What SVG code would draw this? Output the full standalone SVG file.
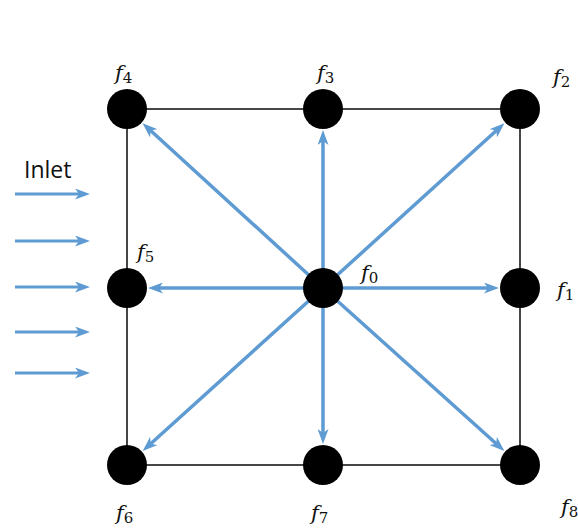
<svg xmlns="http://www.w3.org/2000/svg" width="578" height="531" viewBox="0 0 578 531">
<style>
.frame{fill:none;stroke:#1a1a1a;stroke-width:1.6}
.vec{stroke:#5F9BD3;stroke-width:3.5;fill:none}
.inl{stroke:#5F9BD3;stroke-width:3;fill:none}
.node{fill:#000}
.lbl{font-family:"DejaVu Serif","Liberation Serif",serif;font-style:italic;font-size:21px;fill:#111}
.sub{font-style:normal;font-size:15px}
.title{font-family:"Open Sans","Liberation Sans",sans-serif;font-size:23px;fill:#111}
</style>
<defs>
<marker id="ah" markerUnits="userSpaceOnUse" markerWidth="15" markerHeight="11" viewBox="0 0 15 11" refX="9" refY="5.5" orient="auto">
<path d="M0,0 L15,5.5 L0,11 L4,5.5 z" fill="#5F9BD3"/>
</marker>
</defs>
<rect class="frame" x="127" y="109" width="393" height="356"/>
<g id="connectors">
<line class="vec" x1="323" y1="288" x2="493" y2="288" marker-end="url(#ah)"/>
<line class="vec" x1="323" y1="288" x2="500" y2="127.2" marker-end="url(#ah)"/>
<line class="vec" x1="323" y1="288" x2="323" y2="136" marker-end="url(#ah)"/>
<line class="vec" x1="323" y1="288" x2="147" y2="127.2" marker-end="url(#ah)"/>
<line class="vec" x1="323" y1="288" x2="154" y2="288" marker-end="url(#ah)"/>
<line class="vec" x1="323" y1="288" x2="147.1" y2="447" marker-end="url(#ah)"/>
<line class="vec" x1="323" y1="288" x2="323" y2="438" marker-end="url(#ah)"/>
<line class="vec" x1="323" y1="288" x2="499.9" y2="447" marker-end="url(#ah)"/>
<line class="inl" x1="15" y1="194" x2="84" y2="194" marker-end="url(#ah)"/>
<line class="inl" x1="15" y1="241" x2="84" y2="241" marker-end="url(#ah)"/>
<line class="inl" x1="15" y1="287" x2="84" y2="287" marker-end="url(#ah)"/>
<line class="inl" x1="15" y1="332" x2="84" y2="332" marker-end="url(#ah)"/>
<line class="inl" x1="15" y1="373" x2="84" y2="373" marker-end="url(#ah)"/>
</g>
<text class="title" x="24" y="178">Inlet</text>
<g id="f0"><circle class="node" cx="323" cy="288" r="20"/><text class="lbl" x="361" y="280">f<tspan class="sub" dy="3">0</tspan></text></g>
<g id="f1"><circle class="node" cx="520" cy="288" r="20"/><text class="lbl" x="557" y="297">f<tspan class="sub" dy="3">1</tspan></text></g>
<g id="f2"><circle class="node" cx="520" cy="109" r="20"/><text class="lbl" x="553" y="84">f<tspan class="sub" dy="3">2</tspan></text></g>
<g id="f3"><circle class="node" cx="323" cy="109" r="20"/><text class="lbl" x="317" y="80">f<tspan class="sub" dy="3">3</tspan></text></g>
<g id="f4"><circle class="node" cx="127" cy="109" r="20"/><text class="lbl" x="115" y="80">f<tspan class="sub" dy="3">4</tspan></text></g>
<g id="f5"><circle class="node" cx="127" cy="288" r="20"/><text class="lbl" x="137" y="259">f<tspan class="sub" dy="3">5</tspan></text></g>
<g id="f6"><circle class="node" cx="127" cy="465" r="20"/><text class="lbl" x="116" y="520">f<tspan class="sub" dy="3">6</tspan></text></g>
<g id="f7"><circle class="node" cx="323" cy="465" r="20"/><text class="lbl" x="311" y="520">f<tspan class="sub" dy="3">7</tspan></text></g>
<g id="f8"><circle class="node" cx="520" cy="465" r="20"/><text class="lbl" x="561" y="514">f<tspan class="sub" dy="3">8</tspan></text></g>
</svg>
